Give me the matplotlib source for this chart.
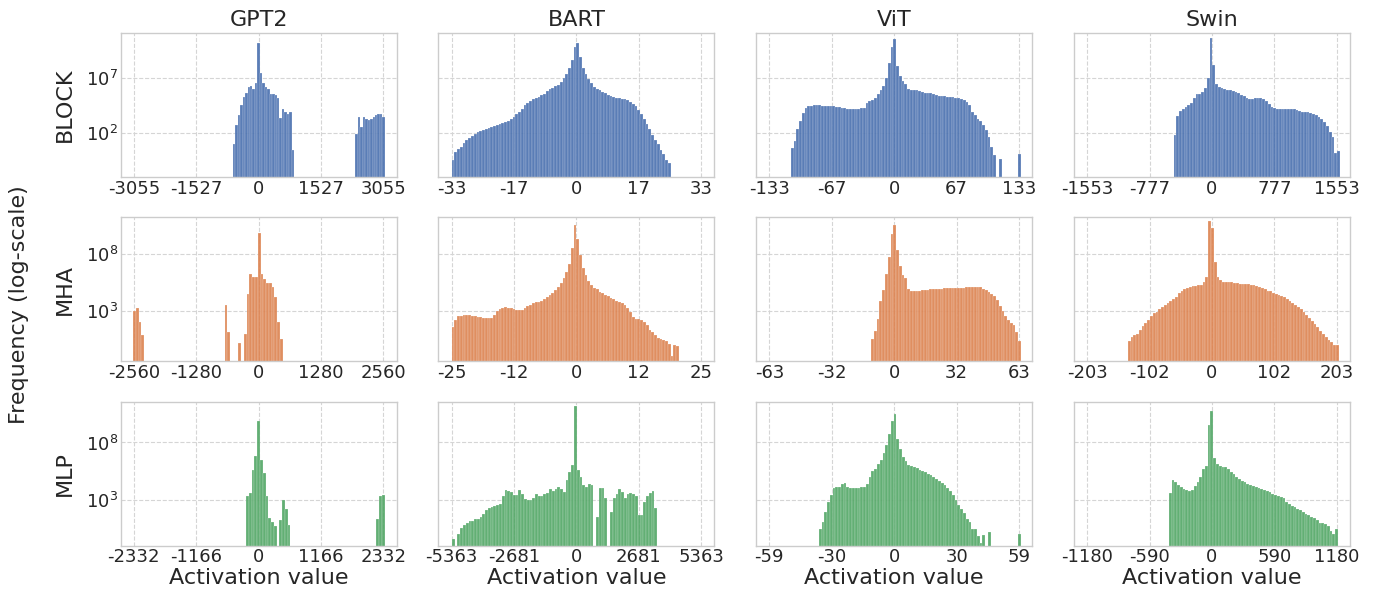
import numpy as np
import seaborn as sns
from matplotlib import pyplot as plt
from matplotlib.ticker import NullLocator

sns.set_theme(style='whitegrid')
plt.rcParams['font.family'] = ['DejaVu Sans']

models = ['GPT2', 'BART', 'ViT', 'Swin']
parts = ['BLOCK', 'MHA', 'MLP']
colors = ['#4C72B0', '#DD8452', '#55A868']

# x tick labels per panel (row = part, col = model)
xticklabels = [
    [['-3055', '-1527', '0', '1527', '3055'], ['-33', '-17', '0', '17', '33'],
     ['-133', '-67', '0', '67', '133'], ['-1553', '-777', '0', '777', '1553']],
    [['-2560', '-1280', '0', '1280', '2560'], ['-25', '-12', '0', '12', '25'],
     ['-63', '-32', '0', '32', '63'], ['-203', '-102', '0', '102', '203']],
    [['-2332', '-1166', '0', '1166', '2332'], ['-5363', '-2681', '0', '2681', '5363'],
     ['-59', '-30', '0', '30', '59'], ['-1180', '-590', '0', '590', '1180']],
]
max_abs = [[3055, 33, 133, 1553], [2560, 25, 63, 203], [2332, 5363, 59, 1180]]

# y ticks (exponents) and visible range per row
ytick_exp = [[2, 7], [3, 8], [3, 8]]
ylim_exp = [(-2.1, 11.17), (-1.45, 11.2), (-1.0, 11.55)]

# histogram bins: first edge, bin width, log10(count) per bin (None = empty bin)
N = None
gpt2_block_start, gpt2_block_width = -630, 60
gpt2_block = [0.98, 2.68, 3.6, 4.53, 5.3, 5.67, 6.17, 6.29, 5.98, 6.6,
              10.24, 7.46, 6.54, 6.23, 5.98, 5.6, 5.55, 5.46, 5.2, 3.39,
              4.22, 3.91, 3.76, 3.91, 0.36] + [N] * 25 + \
             [1.9, 3.45, 2.5, 3.4, 3.3, 3.2, 3.3, 3.45, 3.6, 3.75, 3.7, 3.4]

bart_block_start, bart_block_width = -33, 0.7333
bart_block = [-0.56, 0.21, 0.52, 0.70, 1.01, 1.29, 1.54, 1.69, 1.88, 2.03,
              2.15, 2.28, 2.37, 2.43, 2.52, 2.62, 2.68, 2.77, 2.90, 2.96,
              3.11, 3.27, 3.48, 3.67, 3.91, 4.22, 4.50, 4.69, 4.93, 5.09,
              5.21, 5.30, 5.43, 5.58, 5.86, 6.01, 6.14, 6.26, 6.35, 6.63,
              7.0, 7.43, 7.99, 8.70, 9.93, 10.24, 8.94, 7.99, 7.40, 6.97,
              6.60, 6.23, 6.04, 5.89, 5.77, 5.64, 5.49, 5.36, 5.24, 5.18,
              5.15, 5.12, 5.09, 4.99, 4.84, 4.65, 4.44, 4.07, 3.67, 3.21,
              2.77, 2.34, 1.78, 1.32, 0.92, 0.43, -0.01, -0.5, -0.8]

vit_block_start, vit_block_width = -110.2, 2.956
vit_block = [0.6, 1.25, 2.3, 3.1, 3.85, 4.3, 4.42, 4.48, 4.52, 4.58,
             4.53, 4.46, 4.44, 4.44, 4.44, 4.42, 4.38, 4.32, 4.27, 4.24,
             4.22, 4.19, 4.19, 4.19, 4.22, 4.24, 4.3, 4.7, 4.95, 4.99,
             5.2, 5.6, 5.95, 6.3, 7.0, 8.4, 9.9, 10.6, 8.1, 7.25,
             6.75, 6.45, 6.0, 5.92, 5.96, 5.96, 5.8, 5.7, 5.67, 5.67,
             5.67, 5.6, 5.48, 5.42, 5.38, 5.35, 5.30, 5.28, 5.25, 5.22,
             5.2, 5.1, 4.98, 4.84, 4.5, 3.9, 3.6, 3.3, 3.05, 2.68,
             2.2, 1.6, 0.7, -0.1, N, -0.41, N, N, N, N,
             N, N, 0.0]

swin_block_start, swin_block_width = -478, 34.5
swin_block = [1.8, 3.5, 3.95, 4.2, 4.38, 4.55, 4.7, 5.2, 5.53, 5.55,
              5.75, 6.1, 7.0, 10.7, 8.2, 6.5, 6.22, 6.1, 6.02, 5.97,
              5.92, 5.87, 5.76, 5.63, 5.5, 5.33, 5.21, 5.13, 5.14, 5.17,
              5.18, 5.15, 5.06, 4.88, 4.6, 4.4, 4.27, 4.22, 4.22, 4.22,
              4.22, 4.22, 4.21, 4.16, 4.08, 4.0, 3.94, 3.9, 3.87, 3.82,
              3.72, 3.62, 3.47, 3.28, 3.0, 2.64, 2.1, 1.6, 0.1, 0.3]

gpt2_mha_start, gpt2_mha_width = -2577, 56.9
gpt2_mha = [3.0, 3.2, 2.0, 0.9] + [N] * 29 + [3.5, 1.1, N, N, N, 0.2, N,
            1.0, 4.5, 6.2, 6.0, 6.0, 9.85, 6.2, 5.8, 5.4, 5.4,
            5.1, 4.2, 2.0, 0.5]

bart_mha_start, bart_mha_width = -25, 0.5556
bart_mha = [1.6, 2.2, 2.5, 2.57, 2.62, 2.63, 2.59, 2.54, 2.51, 2.46,
            2.42, 2.38, 2.36, 2.36, 2.4, 2.6, 2.95, 3.18, 3.27, 3.29,
            3.25, 3.2, 3.15, 3.1, 3.06, 3.1, 3.22, 3.38, 3.53, 3.65,
            3.76, 3.81, 3.88, 4.0, 4.2, 4.38, 4.55, 4.8, 5.12, 5.45,
            5.9, 6.4, 7.12, 8.5, 10.55, 9.3, 7.9, 6.75, 6.1, 5.6,
            5.25, 5.03, 4.88, 4.67, 4.52, 4.37, 4.27, 4.12, 4.0, 3.9,
            3.76, 3.64, 3.5, 3.25, 2.9, 2.42, 2.24, 2.24, 2.2, 2.05,
            1.75, 1.27, 1.1, 0.84, 0.62, 0.52, 0.47, 0.38, 0.1, -1.0,
            0.02, -0.1]

vit_mha_start, vit_mha_width = -11.6, 1.4
vit_mha = [0.55, 1.2, 2.3, 3.9, 4.8, 6.2, 7.7, 9.7, 10.5, 8.3,
           6.9, 6.16, 5.9, 4.95, 4.75, 4.73, 4.73, 4.76, 4.78, 4.8,
           4.86, 4.87, 4.87, 4.87, 4.87, 4.9, 4.97, 4.99, 4.99, 4.99,
           4.99, 4.99, 4.99, 5.0, 5.08, 5.08, 5.08, 5.08, 5.08, 5.06,
           4.95, 4.82, 4.68, 4.5, 4.28, 3.91, 3.4, 2.95, 2.5, 2.2,
           1.95, 1.71, 1.1, 0.3]

swin_mha_start, swin_mha_width = -136.8, 4.511
swin_mha = [0.3, 0.7, 0.85, 1.0, 1.33, 1.64, 1.93, 2.2, 2.53, 2.76,
            2.92, 3.13, 3.32, 3.49, 3.67, 3.84, 4.03, 4.25, 4.52, 4.72,
            4.87, 5.0, 5.1, 5.15, 5.19, 5.24, 5.3, 5.51, 5.93, 10.87,
            10.3, 7.3, 5.95, 5.66, 5.52, 5.51, 5.51, 5.5, 5.46, 5.44,
            5.38, 5.37, 5.37, 5.33, 5.27, 5.22, 5.17, 5.1, 5.0, 4.88,
            4.77, 4.7, 4.57, 4.47, 4.38, 4.3, 4.18, 3.99, 3.85, 3.68,
            3.52, 3.35, 3.15, 2.9, 2.65, 2.36, 2.1, 1.85, 1.54, 1.22,
            0.94, 0.66, 0.45, 0.26, -0.04, 0.02]

gpt2_mlp_start, gpt2_mlp_width = -233.1, 51.8
gpt2_mlp = [3.35, 3.6, 5.6, 6.8, 9.85, 6.45, 5.3, 3.3, 1.4, 1.1, 0.7, N,
            1.2, 3.0, 2.2, 0.8] + [N] * 31 + [1.3, 3.3, 3.4]

bart_mlp_start, bart_mlp_width = -5349, 119.2
bart_mlp = [-0.4, N, 0.0, 0.55, 0.78, 0.95, 1.15, 1.17, 1.3, 1.37,
            1.5, 1.75, 2.1, 2.27, 2.4, 2.5, 2.56, 2.65, 3.3, 3.84,
            3.78, 3.66, 3.45, 3.42, 3.84, 3.5, 3.1, 3.0, 3.02, 3.2,
            3.5, 3.3, 3.3, 3.55, 3.6, 3.9, 3.75, 3.9, 4.13, 3.95,
            3.7, 4.7, 5.4, 6.0, 11.2, 5.6, 5.0, 4.3, 4.15, 4.35,
            4.31, N, 1.5, 3.99, 3.99, 3.2, N, 1.9, 3.2, 3.49,
            3.9, 3.65, 3.2, 3.5, 3.6, 3.49, 3.35, 1.65, 1.7, 2.8,
            3.3, 3.6, 3.75, 2.33]

vit_mlp_start, vit_mlp_width = -35.65, 1.311
vit_mlp = [0.5, 1.1, 1.9, 2.8, 3.45, 4.0, 4.1, 4.13, 4.35, 4.45,
           4.1, 4.02, 3.99, 4.0, 4.05, 4.1, 4.15, 4.42, 4.95, 5.5,
           5.72, 6.1, 6.5, 7.1, 7.8, 8.7, 9.9, 10.47, 8.3, 7.42,
           6.75, 6.35, 6.05, 5.93, 5.86, 5.76, 5.6, 5.55, 5.4, 5.28,
           5.15, 5.0, 4.84, 4.68, 4.5, 4.28, 4.05, 3.73, 3.4, 2.95,
           2.55, 2.2, 1.85, 1.3, 1.05, 0.5, 0.44, -0.15, -0.75, -0.06,
           N, 0.2] + [N] * 10 + [0.0]

swin_mlp_start, swin_mlp_width = -407.6, 26.22
swin_mlp = [3.6, 4.7, 4.55, 4.32, 4.12, 3.98, 3.87, 3.78, 3.86, 4.2,
            4.55, 4.98, 5.7, 5.95, 9.5, 10.7, 6.65, 6.08, 5.94, 5.87,
            5.82, 5.7, 5.42, 5.24, 5.0, 4.78, 4.66, 4.55, 4.4, 4.31,
            4.23, 4.16, 4.06, 3.96, 3.83, 3.73, 3.66, 3.55, 3.43, 3.32,
            3.25, 3.15, 2.85, 2.64, 2.5, 2.35, 2.22, 2.1, 1.94, 1.8,
            1.65, 1.5, 1.38, 1.2, 0.98, 1.0, 0.9, 0.7, 0.3, 0.0, 0.5]

hists = [
    [(gpt2_block_start, gpt2_block_width, gpt2_block), (bart_block_start, bart_block_width, bart_block),
     (vit_block_start, vit_block_width, vit_block), (swin_block_start, swin_block_width, swin_block)],
    [(gpt2_mha_start, gpt2_mha_width, gpt2_mha), (bart_mha_start, bart_mha_width, bart_mha),
     (vit_mha_start, vit_mha_width, vit_mha), (swin_mha_start, swin_mha_width, swin_mha)],
    [(gpt2_mlp_start, gpt2_mlp_width, gpt2_mlp), (bart_mlp_start, bart_mlp_width, bart_mlp),
     (vit_mlp_start, vit_mlp_width, vit_mlp), (swin_mlp_start, swin_mlp_width, swin_mlp)],
]

fig, axes = plt.subplots(3, 4, figsize=(13.76, 6.02), dpi=100)
plt.subplots_adjust(left=0.0877, right=0.981, top=0.945, bottom=0.0935, wspace=0.152, hspace=0.28)

for r in range(3):
    for c in range(4):
        ax = axes[r, c]
        start, width, logs = hists[r][c]
        logs = np.array([np.nan if v is None else v for v in logs], dtype=float)
        left = start + width * np.arange(len(logs))
        keep = ~np.isnan(logs)
        ax.set_yscale('log')
        ax.bar(left[keep], 10 ** logs[keep], width=width, align='edge', bottom=1e-6,
               color=colors[r], alpha=0.92, edgecolor='white', linewidth=0.15, zorder=2)

        M = max_abs[r][c]
        ax.set_xticks([-M, -M / 2, 0, M / 2, M])
        ax.set_xticklabels(xticklabels[r][c])
        ax.set_xlim(-1.105 * M, 1.105 * M)

        lo, hi = ylim_exp[r]
        ax.set_ylim(10 ** lo, 10 ** hi)
        ax.set_yticks([10.0 ** e for e in ytick_exp[r]])
        ax.yaxis.set_minor_locator(NullLocator())
        if c > 0:
            ax.set_yticklabels([])
        else:
            ax.set_ylabel(parts[r], fontsize=16, labelpad=8)

        ax.grid(True, linestyle='--', color='#d5d5d5', linewidth=0.8, zorder=0)
        ax.set_axisbelow(True)
        for s in ax.spines.values():
            s.set_color('#cccccc')
            s.set_linewidth(1.0)
        ax.tick_params(axis='both', labelsize=13, pad=2, length=0)

        if r == 0:
            ax.set_title(models[c], fontsize=16, pad=5)
        if r == 2:
            ax.set_xlabel('Activation value', fontsize=16, labelpad=1)

fig.text(0.014, 0.494, 'Frequency (log-scale)', rotation=90, va='center', ha='center', fontsize=16)

plt.savefig('out.png', dpi=100)
